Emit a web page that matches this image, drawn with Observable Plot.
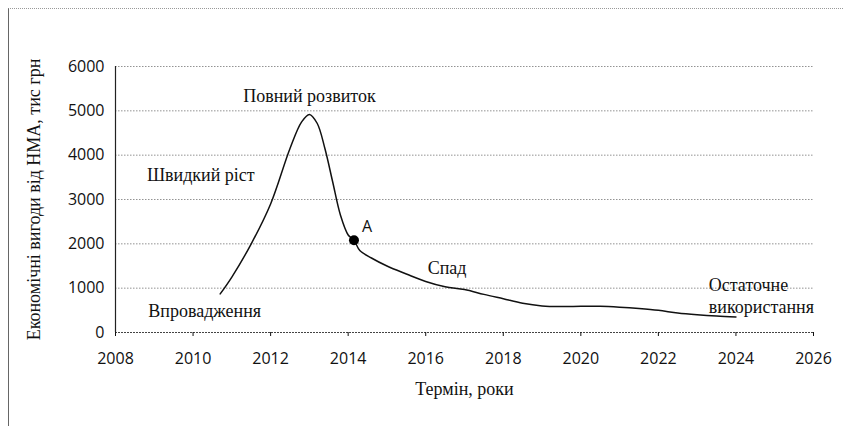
<!DOCTYPE html>
<html>
<head>
<meta charset="utf-8">
<script src="https://cdn.jsdelivr.net/npm/d3@7"></script>
<script src="https://cdn.jsdelivr.net/npm/@observablehq/plot@0.6"></script>
<style>
  html, body { margin: 0; padding: 0; background: #fff; }
  #wrap { position: relative; width: 843px; height: 426px; overflow: hidden; }
  #border { position: absolute; left: 8px; top: 8px; right: -2px; bottom: -2px;
            border-left: 1px solid #666; border-top: 1px dotted #999; pointer-events: none; }
</style>
</head>
<body>
<div id="wrap"><div id="border"></div></div>
<script>
// Curve values
const years = [2010.7, 2011.0, 2011.5, 2012.0, 2012.5, 2012.8, 2013.0, 2013.2, 2013.4, 2013.6, 2013.8, 2014.0, 2014.15, 2014.3, 2014.6, 2015.0, 2015.5, 2016.0, 2016.5, 2017.0, 2017.5, 2018.0, 2018.5, 2019.0, 2019.5, 2020.0, 2020.5, 2021.0, 2021.5, 2022.0, 2022.5, 2023.0, 2023.5, 2024.0];
const benefits = [870, 1250, 2000, 2900, 4150, 4750, 4920, 4720, 4150, 3400, 2650, 2200, 2080, 1850, 1680, 1500, 1320, 1150, 1030, 970, 860, 760, 660, 600, 585, 590, 590, 570, 540, 500, 440, 400, 370, 350];

// Point A
const pointLabels = ["A"];
const pointYears = [2014.15];
const pointValues = [2080];

// Stage labels (centred)
const stageNames = ["Повний розвиток", "Швидкий ріст", "Впровадження", "Спад"];
const stageYears = [2013.0, 2010.2, 2010.3, 2016.55];
const stageValues = [5320, 3550, 470, 1460];
// Stage label (left-aligned, two lines)
const lastStageNames = ["Остаточне", "використання"];
const lastStageYears = [2023.3, 2023.3];
const lastStageValues = [1070, 580];

const xTicks = [2008, 2010, 2012, 2014, 2016, 2018, 2020, 2022, 2024, 2026];
const yTicks = [0, 1000, 2000, 3000, 4000, 5000, 6000];

const curve = years.map((x, i) => ({x, y: benefits[i]}));
const pts = pointLabels.map((l, i) => ({label: l, x: pointYears[i], y: pointValues[i]}));
const stages = stageNames.map((n, i) => ({n, x: stageYears[i], y: stageValues[i]}));
const lastStages = lastStageNames.map((n, i) => ({n, x: lastStageYears[i], y: lastStageValues[i]}));

const serif = "'Liberation Serif', 'DejaVu Serif', serif";
const sans = "'Open Sans', 'Liberation Sans', sans-serif";

const chart = Plot.plot({
  width: 843,
  height: 426,
  marginLeft: 115,
  marginRight: 30,
  marginTop: 66,
  marginBottom: 94,
  style: {fontFamily: sans, fontSize: "16px", color: "#111", background: "transparent"},
  x: {domain: [2008, 2026]},
  y: {domain: [0, 6000]},
  marks: [
    Plot.gridY(yTicks.filter(d => d > 0), {stroke: "#777", strokeOpacity: 1, strokeDasharray: "1.5,1.5", strokeWidth: 0.8}),
    Plot.ruleY([0], {stroke: "#444", strokeDasharray: "2,1", strokeWidth: 1}),
    Plot.ruleX([2008], {stroke: "#222", strokeWidth: 1.2}),
    Plot.axisY({ticks: yTicks, tickSize: 0, tickPadding: 11, tickFormat: d => String(d), fontSize: 16,
      label: "Економічні вигоди від НМА, тис грн", labelAnchor: "center", labelArrow: "none", labelOffset: 88,
      fontFamily: sans}),
    Plot.axisX({ticks: xTicks, tickSize: 4, tickPadding: 16, tickFormat: d => String(d), fontSize: 16,
      label: null}),
    Plot.line(curve, {x: "x", y: "y", curve: "catmull-rom", stroke: "#111", strokeWidth: 1.5}),
    Plot.dot(pts, {x: "x", y: "y", r: 5, fill: "#000"}),
    Plot.text(pts, {x: "x", y: "y", text: "label", dx: 13, dy: -13, fontSize: 16, fontFamily: sans, fill: "#111"}),
    Plot.text(stages, {x: "x", y: "y", text: "n", fontSize: 18, fontFamily: serif, fill: "#111"}),
    Plot.text(lastStages, {x: "x", y: "y", text: "n", textAnchor: "start", fontSize: 18, fontFamily: serif, fill: "#111"}),
    Plot.text(["Термін, роки"], {frameAnchor: "bottom", dy: 62, fontSize: 18, fontFamily: serif, fill: "#111"})
  ]
});
document.getElementById("wrap").appendChild(chart);
chart.style.position = "absolute";
chart.style.left = "0";
chart.style.top = "0";
// serif axis title
chart.querySelectorAll("g[aria-label='y-axis label'] text").forEach(t => { t.style.fontFamily = serif; t.style.fontSize = "18px"; });
</script>
</body>
</html>
